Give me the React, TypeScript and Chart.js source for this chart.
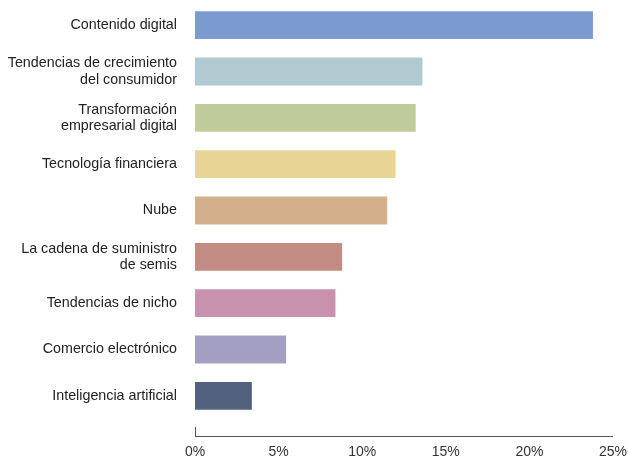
import React, { useEffect, useRef } from "react";
import { Chart, registerables } from "chart.js";

Chart.register(...registerables);

const categories: (string | string[])[] = [
  "Contenido digital",
  ["Tendencias de crecimiento", "del consumidor"],
  ["Transformación", "empresarial digital"],
  "Tecnología financiera",
  "Nube",
  ["La cadena de suministro", "de semis"],
  "Tendencias de nicho",
  "Comercio electrónico",
  "Inteligencia artificial",
];

const shares: number[] = [23.8, 13.6, 13.2, 12.0, 11.5, 8.8, 8.4, 5.45, 3.4];

const barColors: string[] = [
  "#7B9BD0",
  "#B0CAD1",
  "#BFCC9A",
  "#E8D595",
  "#D4AF8C",
  "#C38C83",
  "#C891AD",
  "#A39FC2",
  "#52617D",
];

const xMin = 0;
const xMax = 25;
const xStep = 5;

const FONT = "'Liberation Sans', Arial, Helvetica, sans-serif";

const axisLinePlugin = {
  id: "axisLine",
  afterDraw(chart: any) {
    const { ctx, chartArea, scales } = chart;
    const x = scales.x;
    const y = Math.round(chartArea.bottom + 17);
    const x0 = Math.round(x.getPixelForValue(xMin));
    const x1 = x.getPixelForValue(xMax);
    ctx.save();
    ctx.strokeStyle = "#555555";
    ctx.lineWidth = 1;
    ctx.beginPath();
    ctx.moveTo(x0, y + 0.5);
    ctx.lineTo(x1, y + 0.5);
    ctx.moveTo(x0 + 0.5, y - 9);
    ctx.lineTo(x0 + 0.5, y + 0.5);
    ctx.stroke();
    ctx.restore();
  },
};

export default function App() {
  const ref = useRef<HTMLCanvasElement | null>(null);

  useEffect(() => {
    document.body.style.margin = "0";
    if (!ref.current) return;
    const chart = new Chart(ref.current, {
      type: "bar",
      data: {
        labels: categories as any,
        datasets: [
          {
            data: shares,
            backgroundColor: barColors,
            borderWidth: 0,
            barPercentage: 0.6,
            categoryPercentage: 1,
          },
        ],
      },
      options: {
        indexAxis: "y",
        animation: false,
        responsive: false,
        maintainAspectRatio: false,
        layout: { padding: { top: 2, right: 15, left: 0, bottom: 0 } },
        plugins: {
          legend: { display: false },
          tooltip: { enabled: false },
        },
        scales: {
          x: {
            min: xMin,
            max: xMax,
            grid: { display: false, drawTicks: false },
            border: { display: false },
            ticks: {
              stepSize: xStep,
              padding: 25,
              color: "#333333",
              font: { family: FONT, size: 14 },
              callback: (v: any) => v + "%",
            },
            afterFit: (s: any) => {
              s.height = 41;
              s.paddingLeft = 0;
              s.paddingRight = 0;
            },
          },
          y: {
            grid: { display: false, drawTicks: false },
            border: { display: false },
            ticks: {
              padding: 18,
              color: "#222222",
              font: { family: FONT, size: 14.3, lineHeight: 1.15 },
            },
            afterFit: (s: any) => {
              s.width = 195;
              s.paddingTop = 0;
              s.paddingBottom = 0;
            },
          },
        },
      },
      plugins: [axisLinePlugin],
    });
    return () => chart.destroy();
  }, []);

  return (
    <div style={{ width: 628, height: 460 }}>
      <canvas ref={ref} width={628} height={460} style={{ display: "block" }} />
    </div>
  );
}
